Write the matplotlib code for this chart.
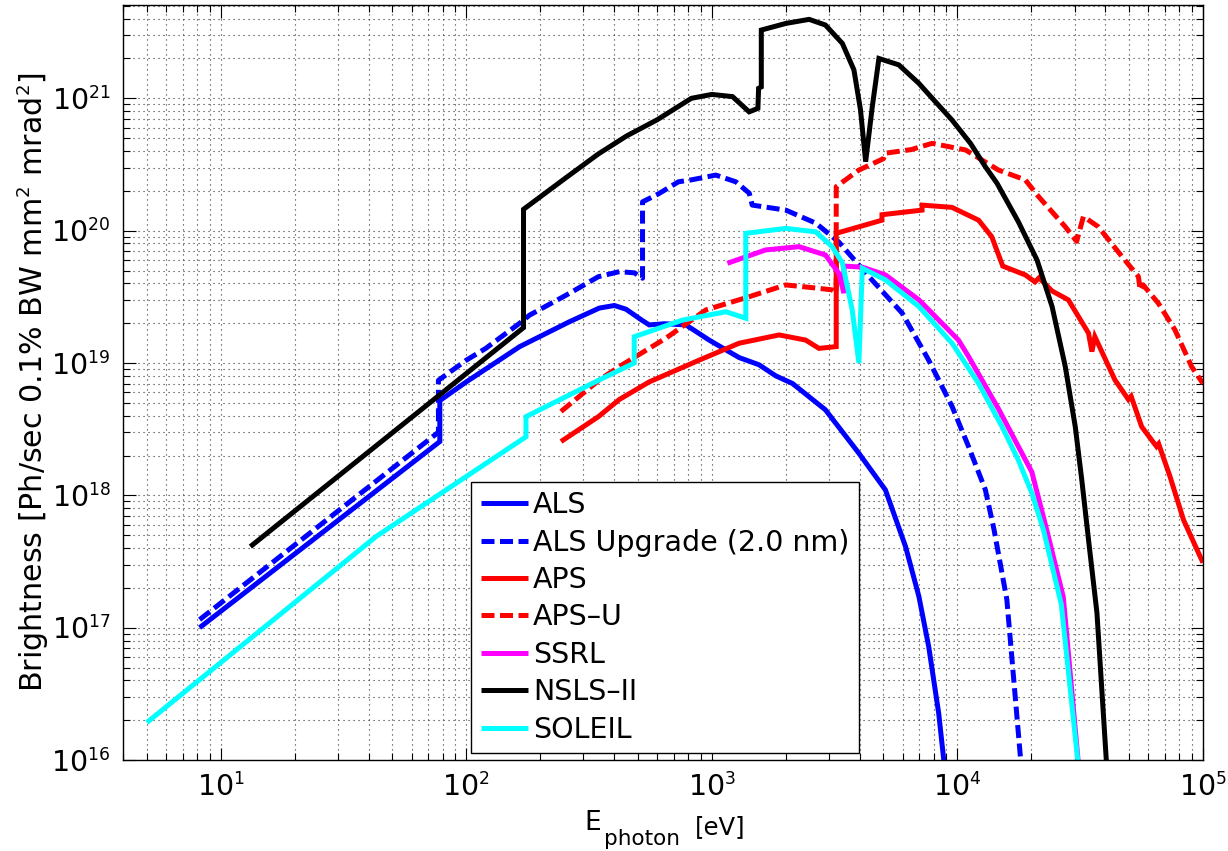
import matplotlib
matplotlib.use("Agg")
import matplotlib.pyplot as plt
from matplotlib.ticker import LogLocator, NullFormatter
import matplotlib._mathtext as _mt

_mt.SHRINK_FACTOR = 0.6

plt.rcParams['font.family'] = ['DejaVu Sans']
plt.rcParams['mathtext.fontset'] = 'dejavusans'

# ---------------- data (photon energy [eV], brightness) ----------------
als_x = [8.2, 78, 78, 100, 165, 263, 348, 401, 447, 520, 556, 640, 784, 975, 1290,
         1556, 1820, 2130, 2900, 3970, 5090, 6150, 6970, 7640, 8390, 8800, 9100]
als_y = [1.0e17, 2.55e18, 5.2e18, 7.2e18, 1.33e19, 2.05e19, 2.6e19, 2.72e19, 2.55e19,
         2.1e19, 1.94e19, 1.98e19, 1.94e19, 1.49e19, 1.1e19, 9.7e18, 8.0e18, 7.0e18,
         4.43e18, 2.08e18, 1.1e18, 4.1e17, 1.72e17, 7.2e16, 2.26e16, 1.0e16, 6.0e15]

alsu_x = [8.2, 77, 77, 100, 120, 165, 181, 263, 345, 420, 484, 522, 522, 607, 731, 825,
          1038, 1252, 1420, 1460, 2000, 2650, 3290, 4360, 5960, 7640, 9510, 11100, 13000,
          14100, 15900, 18100, 18500]
alsu_y = [1.15e17, 3.0e18, 7.4e18, 1.05e19, 1.29e19, 2.0e19, 2.3e19, 3.36e19, 4.49e19,
          4.9e19, 4.8e19, 4.37e19, 1.65e20, 1.9e20, 2.34e20, 2.42e20, 2.63e20, 2.34e20,
          1.92e20, 1.56e20, 1.43e20, 1.14e20, 8.2e19, 4.5e19, 2.38e19, 1.05e19, 4.7e18,
          2.34e18, 1.1e18, 5.5e17, 1.63e17, 1.0e16, 5.0e15]

aps_x = [243, 345, 420, 556, 887, 1290, 1880, 2410, 2730, 3210, 3210, 4930, 4930,
         7180, 7180, 9500, 12200, 13800, 15300, 18900, 20700, 21500, 24300, 28300, 34200,
         35300, 36300, 43800, 49700, 51000, 56300, 64700, 66000, 73400, 83400, 100000]
aps_y = [2.55e18, 3.93e18, 5.3e18, 7.2e18, 1.05e19, 1.41e19, 1.63e19, 1.49e19, 1.29e19,
         1.33e19, 9.55e19, 1.2e20, 1.32e20, 1.43e20, 1.56e20, 1.5e20, 1.2e20, 9.0e19,
         5.4e19, 4.63e19, 4.1e19, 4.4e19, 3.5e19, 3.0e19, 1.68e19, 1.22e19, 1.58e19,
         7.45e18, 5.3e18, 5.6e18, 3.3e18, 2.34e18, 2.45e18, 1.39e18, 6.5e17, 3.1e17]

apsu_x = [243, 348, 420, 650, 946, 1420, 2000, 2600, 3090, 3210, 3210, 3970, 5000, 5090,
          6490, 7890, 10800, 14700, 18900, 21400, 27500, 30600, 32600, 37500, 46700, 54600,
          55500, 57000, 65800, 76900, 89900, 100000]
apsu_y = [4.3e18, 7.45e18, 9.4e18, 1.54e19, 2.52e19, 3.17e19, 3.89e19, 3.7e19, 3.57e19,
          3.4e19, 2.15e20, 2.87e20, 3.5e20, 3.85e20, 4.1e20, 4.57e20, 4.07e20, 2.87e20,
          2.42e20, 1.81e20, 1.07e20, 8.3e19, 1.28e20, 1.07e20, 6.4e19, 4.5e19, 3.55e19,
          3.9e19, 2.83e19, 1.78e19, 9.4e18, 7.0e18]

ssrl_x = [1157, 1655, 2265, 2900, 3290, 3450, 3450, 4100, 5090, 6970, 10100, 11100, 14700,
          20100, 23100, 27000, 31000, 31500]
ssrl_y = [5.67e19, 7.15e19, 7.57e19, 6.55e19, 4.76e19, 3.37e19, 5.4e19, 5.3e19, 4.63e19,
          3.0e19, 1.49e19, 1.12e19, 4.5e18, 1.5e18, 5.5e17, 1.7e17, 1.0e16, 5.0e15]

nsls_x = [13.2, 171, 171, 250, 345, 450, 600, 825, 1000, 1214, 1419, 1540, 1550, 1590, 1590,
          2000, 2490, 2900, 3400, 3790, 4030, 4230, 4500, 4790, 5770, 6960, 8020, 9510,
          11300, 13000, 14500, 17700, 21100, 24300, 27500, 30200, 32100, 34500, 37000,
          40400, 41500]
nsls_y = [4.1e17, 1.85e19, 1.45e20, 2.45e20, 3.8e20, 5.2e20, 6.9e20, 1.0e21, 1.07e21,
          1.03e21, 7.9e20, 8.4e20, 1.19e21, 1.22e21, 3.28e21, 3.68e21, 3.95e21, 3.58e21,
          2.6e21, 1.64e21, 8.2e20, 3.32e20, 8.6e20, 2.0e21, 1.79e21, 1.3e21, 9.7e20,
          6.85e20, 4.57e20, 3.04e20, 2.28e20, 1.17e20, 6.0e19, 2.67e19, 9.4e18, 3.3e18,
          1.31e18, 4.0e17, 1.3e17, 1.0e16, 5.0e15]

sol_x = [5, 43, 175, 175, 348, 483, 483, 760, 1140, 1375, 1375, 2000, 2650, 3090, 3400,
         3730, 3970, 4100, 5090, 6970, 9510, 12200, 15200, 17700, 20100, 22400, 26500,
         30900, 31500]
sol_y = [1.92e16, 4.9e17, 2.77e18, 3.93e18, 7.45e18, 1.0e19, 1.58e19, 2.11e19, 2.44e19,
         2.18e19, 9.55e19, 1.04e20, 9.8e19, 7.57e19, 5.7e19, 2.52e19, 1.0e19, 5.2e19,
         4.25e19, 2.67e19, 1.41e19, 7.0e18, 3.3e18, 1.85e18, 1.04e18, 5.5e17, 1.5e17,
         1.0e16, 5.0e15]

labels = ['ALS', 'ALS Upgrade (2.0 nm)', 'APS', 'APS\u2013U', 'SSRL', 'NSLS\u2013II', 'SOLEIL']
colors = ['#0000ff', '#0000ff', '#ff0000', '#ff0000', '#ff00ff', '#000000', '#00ffff']
styles = ['-', '--', '-', '--', '-', '-', '-']
series = [(als_x, als_y), (alsu_x, alsu_y), (aps_x, aps_y), (apsu_x, apsu_y),
          (ssrl_x, ssrl_y), (nsls_x, nsls_y), (sol_x, sol_y)]

fig = plt.figure(figsize=(12.28, 8.51), dpi=100)
ax = fig.add_axes([0.1002, 0.1069, 0.8794, 0.8872])

for (xs, ys), lab, c, ls in zip(series, labels, colors, styles):
    line, = ax.plot(xs, ys, color=c, linestyle=ls, linewidth=3.6, label=lab,
                    solid_joinstyle='miter', solid_capstyle='butt')
    if ls == '--':
        line.set_dashes((2.6, 1.1))

ax.set_xscale('log')
ax.set_yscale('log')
ax.set_xlim(4, 1e5)
ax.set_ylim(1e16, 5.07e21)

ax.xaxis.set_major_locator(LogLocator(base=10, numticks=20))
ax.yaxis.set_major_locator(LogLocator(base=10, numticks=20))
ax.xaxis.set_minor_locator(LogLocator(base=10, subs=range(2, 10), numticks=40))
ax.yaxis.set_minor_locator(LogLocator(base=10, subs=range(2, 10), numticks=40))
ax.xaxis.set_minor_formatter(NullFormatter())
ax.yaxis.set_minor_formatter(NullFormatter())

ax.grid(True, which='both', linestyle=(0, (1, 3.5)), color='#333333', linewidth=0.8)
ax.set_axisbelow(True)
ax.tick_params(which='both', direction='in', top=True, right=True, labelsize=20.5, width=0.8)
ax.tick_params(which='major', length=9, pad=9)
ax.tick_params(which='minor', length=5)
for sp in ax.spines.values():
    sp.set_linewidth(1.0)

ax.set_ylabel(r'Brightness [Ph/sec 0.1% BW mm$^{2}$ mrad$^{2}$]', fontsize=21.7)
ax.yaxis.set_label_coords(-0.067, 0.5)

# x label: E with a large "photon" subscript
fig.text(584 / 1228, 1 - 830 / 851, 'E', fontsize=19, va='baseline', ha='left')
fig.text(604 / 1228, 1 - 845 / 851, 'photon', fontsize=15.5, va='baseline', ha='left')
fig.text(695 / 1228, 1 - 834 / 851, '[eV]', fontsize=17.5, va='baseline', ha='left')

leg = ax.legend(loc='lower left', bbox_to_anchor=(0.3224, 0.0093), fontsize=20.5,
                frameon=True, fancybox=False, edgecolor='black', framealpha=1,
                handlelength=1.67, handletextpad=0.17, labelspacing=0.33,
                borderpad=0.33, borderaxespad=0)
leg.get_frame().set_linewidth(1.0)

fig.savefig('out.png', dpi=100)
